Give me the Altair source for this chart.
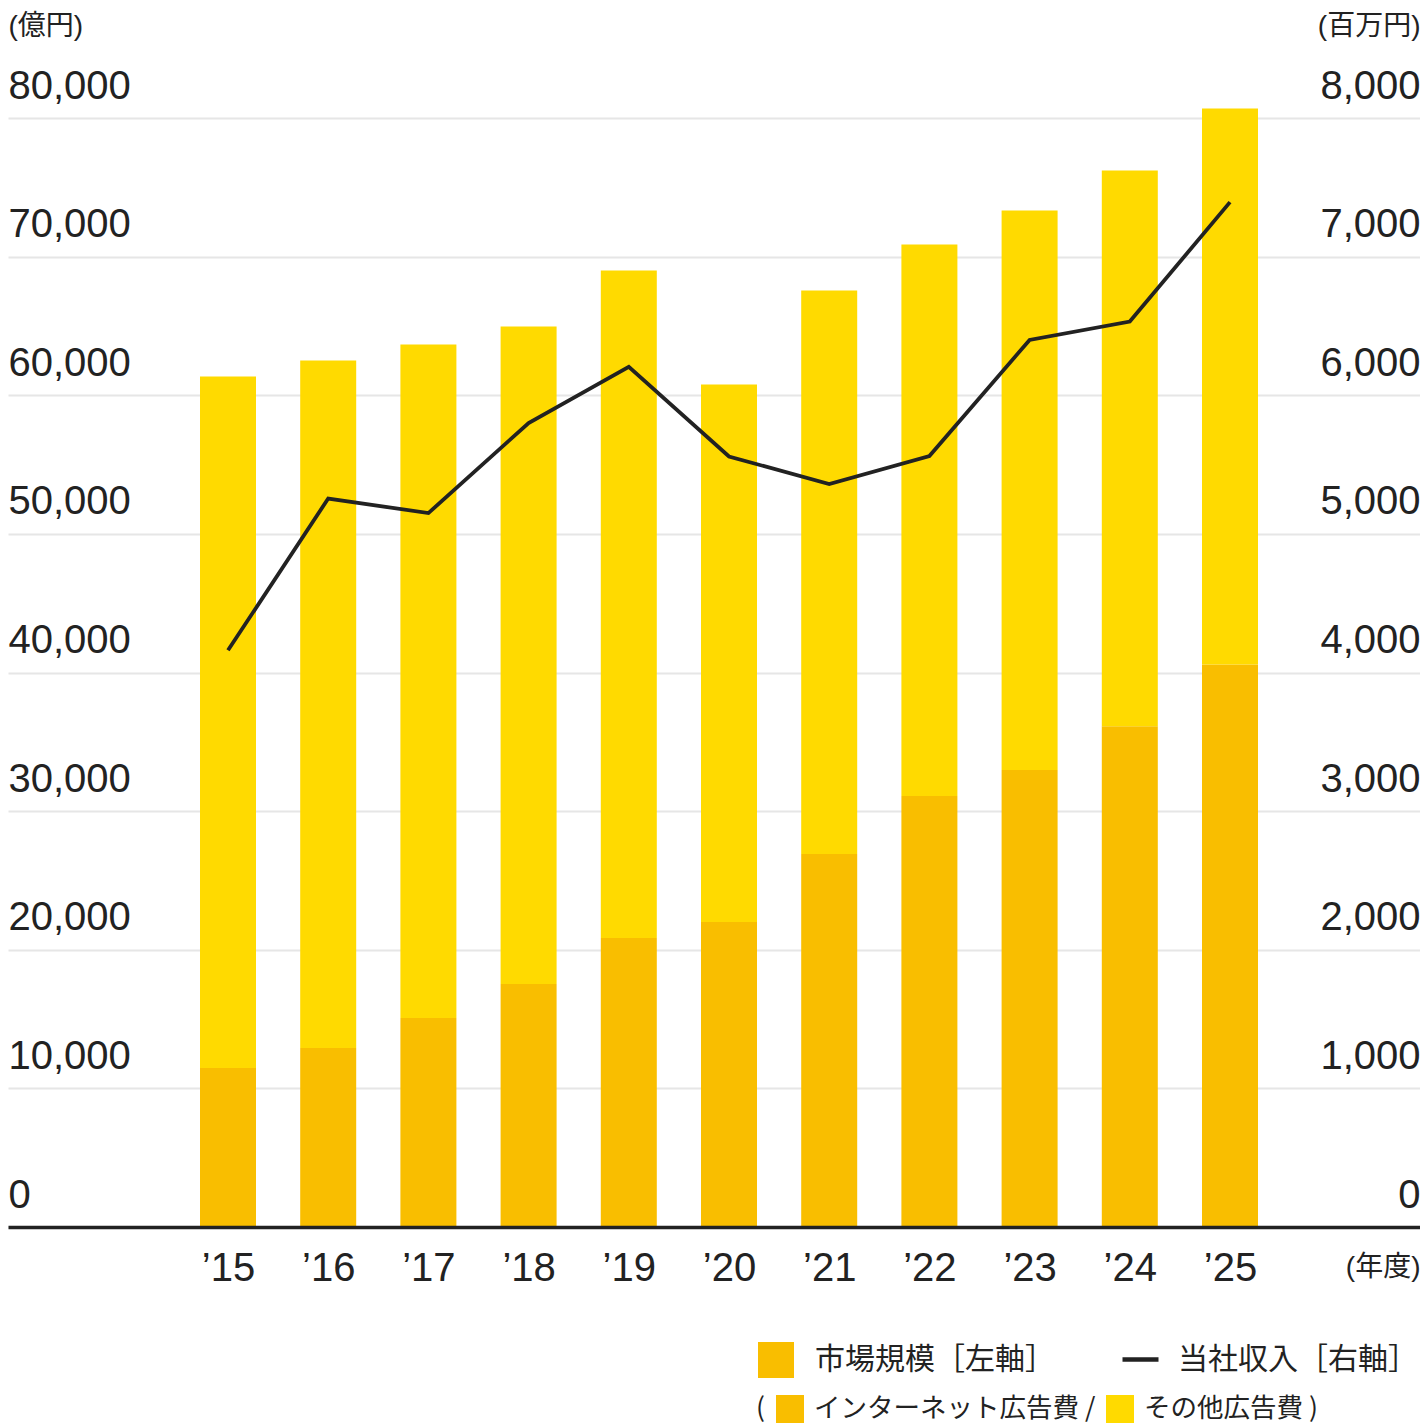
import json
import altair as alt
import pandas as pd

# ---- data ----
YEAR_NUM = [2015, 2016, 2017, 2018, 2019, 2020, 2021, 2022, 2023, 2024, 2025]
YEARS = ["\u201915", "\u201916", "\u201917", "\u201918", "\u201919", "\u201920",
         "\u201921", "\u201922", "\u201923", "\u201924", "\u201925"]
MARKET_TOTAL = [61360, 62510, 63660, 64960, 69000, 60780, 67560, 70880, 73330, 76210, 80690]
MARKET_INTERNET = [11470, 12910, 15070, 17530, 20840, 22000, 26900, 31090, 32960, 36130, 40580]
REVENUE = [4160, 5255, 5150, 5800, 6205, 5558, 5360, 5561, 6399, 6532, 7393]

SEGMENTS = ["インターネット広告費", "その他広告費"]
LEGEND_MARKET = ["市場規模［左軸］"]
LEGEND_REVENUE = ["当社収入［右軸］"]
LEFT_TICKS = [0, 10000, 20000, 30000, 40000, 50000, 60000, 70000, 80000]
RIGHT_TICKS = [0, 1000, 2000, 3000, 4000, 5000, 6000, 7000, 8000]
LEFT_UNIT = "(億円)"
RIGHT_UNIT = "(百万円)"
X_UNIT = "(年度)"
LEGEND_OPEN = "("

# ---- styling ----
ORANGE = "#F9BE00"
YELLOW = "#FFDA00"
INK = "#222222"
GRID = "#E6E6E6"
NUM_FONT = "Liberation Sans"
JP_FONT = "Noto Sans CJK JP"
UNIT_FONT = "Liberation Sans, Noto Sans CJK JP"
W = 1412
H = 1109
X_DOMAIN = [2012.80439, 2026.89621]
BAR_W = 56

rows = []
for yn, tot, net in zip(YEAR_NUM, MARKET_TOTAL, MARKET_INTERNET):
    rows.append({"年度": yn, "区分": SEGMENTS[0], "下端": 0, "上端": net})
    rows.append({"年度": yn, "区分": SEGMENTS[1], "下端": net, "上端": tot})
bars_df = pd.DataFrame(rows)
line_df = pd.DataFrame({"年度": YEAR_NUM, "当社収入": REVENUE})
legend_df = pd.DataFrame({"凡例1": LEGEND_MARKET, "凡例2": LEGEND_REVENUE})

x_scale = alt.Scale(domain=X_DOMAIN, nice=False, zero=False, padding=0)

x_axis = alt.Axis(
    values=YEAR_NUM, labelExpr=f"{json.dumps(YEARS)}[datum.value - {YEAR_NUM[0]}]",
    title=X_UNIT, labelFont=NUM_FONT, labelFontSize=40, labelColor=INK, labelAngle=0,
    labelAlign="center", labelBaseline="alphabetic", labelPadding=53, labelFlush=False,
    ticks=False, tickSize=0,
    domain=True, domainColor=INK, domainWidth=3.5, grid=False,
    titleFont=UNIT_FONT, titleFontSize=28, titleFontWeight="normal", titleColor=INK,
    titleX=W, titleY=40, titleAlign="right", titleBaseline="middle", zindex=1,
)

left_axis = alt.Axis(
    orient="left", values=LEFT_TICKS, format=",d", labelFont=NUM_FONT, labelFontSize=40,
    labelColor=INK, labelAlign="left", labelBaseline="alphabetic", labelOffset=-20,
    labelPadding=0, labelFlush=False, ticks=False, tickSize=0, domain=False,
    grid=True, gridColor=GRID, gridWidth=2,
    title=LEFT_UNIT, titleAngle=0, titleX=0, titleY=-92, titleAlign="left",
    titleBaseline="middle", titleFont=UNIT_FONT, titleFontSize=28,
    titleFontWeight="normal", titleColor=INK,
)

right_axis = alt.Axis(
    orient="right", values=RIGHT_TICKS, format=",d", labelFont=NUM_FONT, labelFontSize=40,
    labelColor=INK, labelAlign="right", labelBaseline="alphabetic", labelOffset=-20,
    labelPadding=0, labelFlush=False, ticks=False, tickSize=0, domain=False, grid=False,
    title=RIGHT_UNIT, titleAngle=0, titleX=0, titleY=-92, titleAlign="right",
    titleBaseline="middle", titleFont=UNIT_FONT, titleFontSize=28,
    titleFontWeight="normal", titleColor=INK,
)

seg_legend = alt.Legend(
    orient="none", legendX=748, legendY=1277, direction="horizontal",
    title=LEGEND_OPEN, titleOrient="left", titleFont=JP_FONT, titleFontSize=26.5,
    titleFontWeight="normal", titleColor=INK, titlePadding=11,
    labelFont=JP_FONT, labelFontSize=26.5, labelColor=INK, labelLimit=600,
    labelOffset=10, columnPadding=10, symbolType="square", symbolSize=784,
    symbolStrokeWidth=0, padding=0,
    labelExpr=f"datum.label == '{SEGMENTS[0]}' ? datum.label + ' /' : datum.label + ' )'",
)

market_legend = alt.Legend(
    orient="none", legendX=750, legendY=1224, direction="horizontal", title=None,
    labelFont=JP_FONT, labelFontSize=30, labelColor=INK, labelLimit=600,
    labelOffset=21, symbolType="square", symbolSize=1296, symbolStrokeWidth=0, padding=0,
)

revenue_legend = alt.Legend(
    orient="none", legendX=1112, legendY=1221, direction="horizontal", title=None,
    labelFont=JP_FONT, labelFontSize=30, labelColor=INK, labelLimit=600,
    labelOffset=17, symbolType="stroke", symbolSize=1296, symbolStrokeWidth=4.5, padding=0,
)

bars = alt.Chart(bars_df).mark_bar(size=BAR_W).encode(
    x=alt.X("年度:Q", scale=x_scale, axis=x_axis),
    y=alt.Y("下端:Q", scale=alt.Scale(domain=[0, 80000], nice=False), axis=left_axis),
    y2="上端:Q",
    color=alt.Color("区分:N", scale=alt.Scale(domain=SEGMENTS, range=[ORANGE, YELLOW]),
                    legend=seg_legend),
)

line = alt.Chart(line_df).mark_line(color=INK, strokeWidth=3.8).encode(
    x=alt.X("年度:Q", scale=x_scale, axis=x_axis),
    y=alt.Y("当社収入:Q", scale=alt.Scale(domain=[0, 8000], nice=False), axis=right_axis),
)

helper_market = alt.Chart(legend_df).mark_point(
    shape="square", filled=True, opacity=1, clip=True
).encode(
    x=alt.value(-500),
    y=alt.value(-500),
    fill=alt.Fill("凡例1:N", scale=alt.Scale(domain=LEGEND_MARKET, range=[ORANGE]),
                  legend=market_legend),
)

helper_revenue = alt.Chart(legend_df).mark_point(
    shape="stroke", filled=False, opacity=1, clip=True, strokeWidth=4.5
).encode(
    x=alt.value(-500),
    y=alt.value(-500),
    stroke=alt.Stroke("凡例2:N", scale=alt.Scale(domain=LEGEND_REVENUE, range=[INK]),
                      legend=revenue_legend),
)

chart = (
    alt.layer(bars, line, helper_market, helper_revenue)
    .resolve_scale(y="independent")
    .properties(width=W, height=H, autosize=alt.AutoSizeParams(type="none"),
                padding={"left": 0, "top": 110, "right": 0, "bottom": 200})
    .configure_view(stroke=None)
)

chart.save("out.html", embed_options={"renderer": "svg", "actions": False})
